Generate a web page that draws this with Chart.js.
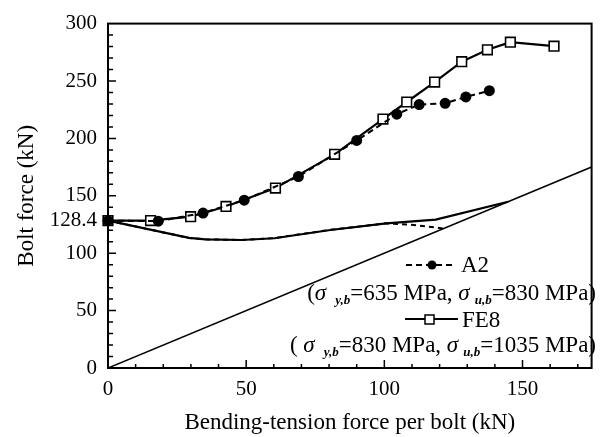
<!DOCTYPE html>
<html>
<head>
<meta charset="utf-8">
<script src="https://cdn.jsdelivr.net/npm/chart.js@4"></script>
<style>
html, body { margin: 0; padding: 0; background: #fff; }
</style>
</head>
<body>
<canvas id="chart" width="600" height="437"></canvas>
<script>
// FE8 (upper curve, open squares)
const fe8X = [0, 15.4, 29.9, 42.7, 60.6, 82.0, 99.5, 108.1, 118.2, 128.0, 137.3, 145.6, 161.4];
const fe8Y = [128.4, 128.4, 131.8, 140.7, 156.7, 186.1, 216.8, 231.7, 249.1, 266.8, 277.2, 283.8, 280.3];
// A2 (upper curve, filled circles)
const a2X = [0, 18.2, 34.4, 49.3, 68.9, 90.0, 104.5, 112.6, 122.0, 129.5, 138.0];
const a2Y = [128.4, 127.9, 135.0, 146.2, 166.8, 198.2, 221.1, 229.5, 230.6, 236.1, 241.6];
// lower curves (no markers)
const fe8LowX = [0, 29.3, 35.2, 48.3, 60.2, 80.5, 100.7, 118.6, 144.8];
const fe8LowY = [128.4, 113.3, 112.1, 111.5, 113.0, 120.2, 126.0, 129.2, 144.8];
const a2LowX = [0, 29.3, 35.2, 48.3, 60.2, 80.5, 100.7, 110.5, 121.5];
const a2LowY = [128.4, 113.3, 112.1, 111.5, 113.2, 120.4, 126.0, 124.6, 121.5];
// reference line y = x
const diagX = [0, 175];
const diagY = [0, 175];

const xTicks = [0, 50, 100, 150];
const yTicks = [0, 50, 100, 128.4, 150, 200, 250, 300];

const serif = 'Liberation Serif';

function pts(xs, ys) {
    return xs.map((x, i) => ({ x: x, y: ys[i] }));
}

// 枠線と内向きの目盛り
const frameTicks = {
    id: 'frameTicks',
    beforeDatasetsDraw(chart) {
        const ctx = chart.ctx;
        const a = chart.chartArea;
        const xs = chart.scales.x;
        const ys = chart.scales.y;
        ctx.save();
        ctx.strokeStyle = '#000';
        ctx.lineWidth = 2;
        ctx.strokeRect(a.left, a.top, a.right - a.left, a.bottom - a.top);
        ctx.lineWidth = 1.5;
        ctx.beginPath();
        for (let v = 10; v <= 170; v += 10) {
            const px = xs.getPixelForValue(v);
            const len = v % 50 === 0 ? 8 : 4;
            ctx.moveTo(px, a.bottom);
            ctx.lineTo(px, a.bottom - len);
        }
        for (let v = 10; v < 300; v += 10) {
            const py = ys.getPixelForValue(v);
            const len = v % 50 === 0 ? 8 : 5;
            ctx.moveTo(a.left, py);
            ctx.lineTo(a.left + len, py);
        }
        ctx.stroke();
        ctx.restore();
    }
};

function drawRich(ctx, parts, rightX, baseY) {
    let total = 0;
    parts.forEach(p => {
        ctx.font = p.f;
        p.w = ctx.measureText(p.t).width + (p.gap || 0);
        total += p.w;
    });
    let x = rightX - total;
    parts.forEach(p => {
        ctx.font = p.f;
        ctx.fillText(p.t, x + (p.gap || 0), baseY + (p.dy || 0));
        x += p.w;
    });
}

// 凡例（グラフ内）
const legendBox = {
    id: 'legendBox',
    afterDraw(chart) {
        const ctx = chart.ctx;
        const main = '23px ' + serif;
        const ital = 'italic 23px ' + serif;
        const sub = 'italic bold 13px ' + serif;
        ctx.save();
        ctx.fillStyle = '#000';
        ctx.strokeStyle = '#000';
        ctx.textBaseline = 'alphabetic';
        ctx.textAlign = 'left';

        // A2
        ctx.lineWidth = 2;
        ctx.setLineDash([6, 4]);
        ctx.beginPath();
        ctx.moveTo(406, 265);
        ctx.lineTo(454, 265);
        ctx.stroke();
        ctx.setLineDash([]);
        ctx.beginPath();
        ctx.arc(432, 265, 4.5, 0, Math.PI * 2);
        ctx.fill();
        ctx.font = main;
        ctx.fillText('A2', 461, 272);

        drawRich(ctx, [
            { t: '(', f: main },
            { t: 'σ', f: ital },
            { t: 'y,b', f: sub, gap: 9, dy: 4 },
            { t: '=635 MPa, ', f: main },
            { t: 'σ', f: ital },
            { t: 'u,b', f: sub, gap: 5, dy: 4 },
            { t: '=830 MPa)', f: main }
        ], 596, 300);

        // FE8
        ctx.lineWidth = 2;
        ctx.beginPath();
        ctx.moveTo(405, 319);
        ctx.lineTo(458, 319);
        ctx.stroke();
        ctx.fillStyle = '#fff';
        ctx.fillRect(425, 315, 9, 9);
        ctx.lineWidth = 1.5;
        ctx.strokeRect(425, 315, 9, 9);
        ctx.fillStyle = '#000';
        ctx.font = main;
        ctx.fillText('FE8', 462, 327);

        drawRich(ctx, [
            { t: '( ', f: main },
            { t: 'σ', f: ital },
            { t: 'y,b', f: sub, gap: 9, dy: 4 },
            { t: '=830 MPa, ', f: main },
            { t: 'σ', f: ital },
            { t: 'u,b', f: sub, gap: 5, dy: 4 },
            { t: '=1035 MPa)', f: main }
        ], 596, 352);
        ctx.restore();
    }
};

new Chart(document.getElementById('chart').getContext('2d'), {
    type: 'line',
    data: {
        datasets: [
            {
                label: 'diag',
                data: pts(diagX, diagY),
                borderColor: '#000',
                borderWidth: 1.6,
                pointRadius: 0
            },
            {
                label: 'FE8 low',
                data: pts(fe8LowX, fe8LowY),
                borderColor: '#000',
                borderWidth: 2.2,
                pointRadius: 0
            },
            {
                label: 'A2 low',
                data: pts(a2LowX, a2LowY),
                borderColor: '#000',
                borderWidth: 2,
                borderDash: [5, 4],
                pointRadius: 0
            },
            {
                label: 'A2',
                data: pts(a2X, a2Y),
                borderColor: '#000',
                borderWidth: 2,
                borderDash: [6, 4],
                pointStyle: 'circle',
                pointRadius: 4.5,
                pointBackgroundColor: '#000',
                pointBorderColor: '#000',
                clip: 8
            },
            {
                label: 'FE8',
                data: pts(fe8X, fe8Y),
                borderColor: '#000',
                borderWidth: 2.2,
                pointStyle: 'rect',
                pointRadius: 6.8,
                pointBorderWidth: 1.6,
                pointBackgroundColor: '#fff',
                pointBorderColor: '#000',
                clip: 8
            }
        ]
    },
    options: {
        responsive: false,
        animation: false,
        events: [],
        layout: { padding: { top: 22, right: 2, left: 0, bottom: 0 } },
        plugins: {
            legend: { display: false },
            tooltip: { enabled: false }
        },
        scales: {
            x: {
                type: 'linear',
                min: 0,
                max: 175,
                afterBuildTicks: s => { s.ticks = xTicks.map(v => ({ value: v })); },
                afterFit: s => { s.height = 69; },
                grid: { display: false, drawTicks: false },
                border: { display: false },
                ticks: {
                    color: '#000',
                    font: { family: serif, size: 21 },
                    padding: 9,
                    maxRotation: 0,
                    autoSkip: false,
                    callback: v => String(v)
                },
                title: {
                    display: true,
                    text: 'Bending-tension force per bolt (kN)',
                    color: '#000',
                    font: { family: serif, size: 23 },
                    padding: { top: 0, bottom: 0 }
                }
            },
            y: {
                type: 'linear',
                min: 0,
                max: 300,
                afterBuildTicks: s => { s.ticks = yTicks.map(v => ({ value: v })); },
                afterFit: s => { s.width = 108; },
                grid: { display: false, drawTicks: false },
                border: { display: false },
                ticks: {
                    color: '#000',
                    font: { family: serif, size: 21 },
                    padding: 11,
                    autoSkip: false,
                    callback: v => String(v)
                },
                title: {
                    display: true,
                    text: 'Bolt force (kN)',
                    color: '#000',
                    font: { family: serif, size: 23 },
                    padding: { top: 13, bottom: 0 }
                }
            }
        }
    },
    plugins: [frameTicks, legendBox]
});
</script>
</body>
</html>
